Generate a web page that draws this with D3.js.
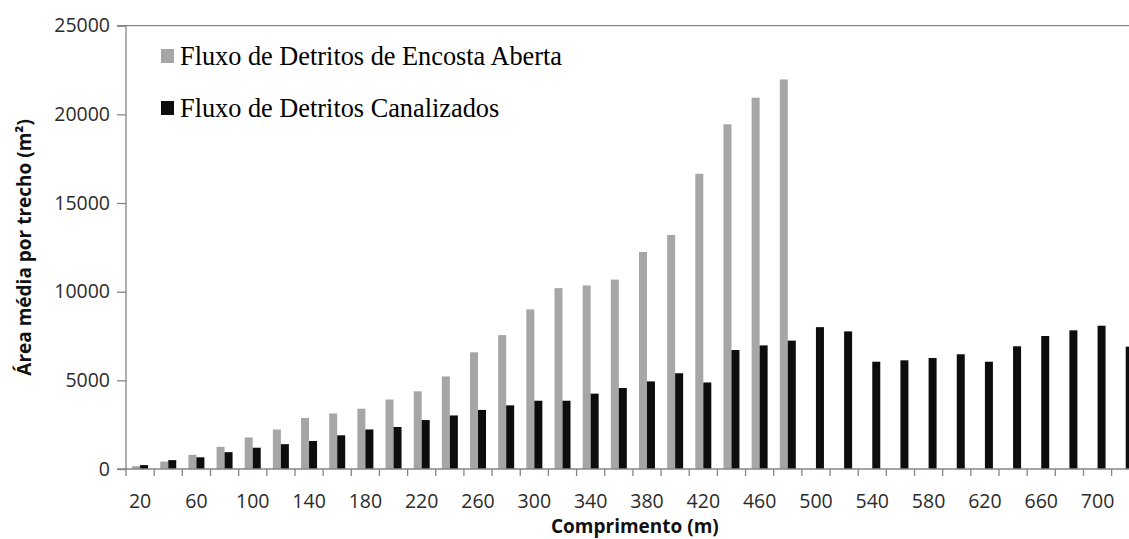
<!DOCTYPE html>
<html>
<head>
<meta charset="utf-8">
<script src="https://cdn.jsdelivr.net/npm/d3@7"></script>
<style>
  html, body { margin: 0; padding: 0; background: #fff; }
  svg { display: block; }
</style>
</head>
<body>
<svg id="chart" width="1129" height="539"></svg>
<script>
// ---- data ----
const categories = [20,40,60,80,100,120,140,160,180,200,220,240,260,280,300,320,340,360,380,400,420,440,460,480,500,520,540,560,580,600,620,640,660,680,700,720];
const encostaAberta = [160,420,800,1250,1780,2230,2880,3130,3400,3920,4380,5220,6580,7550,9000,10200,10350,10680,12240,13200,16650,19440,20940,21970,0,0,0,0,0,0,0,0,0,0,0,0];
const canalizados = [220,500,660,950,1200,1400,1580,1900,2230,2370,2760,3020,3330,3590,3850,3850,4250,4570,4940,5400,4880,6710,6970,7240,8000,7760,6050,6130,6260,6470,6050,6920,7500,7820,8080,6900];
const yTicks = [0,5000,10000,15000,20000,25000];
const seriesNames = ["Fluxo de Detritos de Encosta Aberta", "Fluxo de Detritos Canalizados"];
const seriesColors = ["#A6A6A6", "#0D0D0D"];
const xTitle = "Comprimento (m)";
const yTitle = "Área média por trecho (m²)";

(function () {
// ---- layout ----
const svg = d3.select("#chart");
const W = 1129;
const pL = 126, pR = 1139.8, pT = 25.7, pB = 469;
const axisColor = "#868686";

const x = d3.scaleBand().domain(categories).range([pL, pR]).paddingInner(0).paddingOuter(0);
const x1 = d3.scaleBand().domain([0,1]).range([0, x.bandwidth()]).paddingInner(0).paddingOuter(0.76);
const y = d3.scaleLinear().domain([0, 25000]).range([pB, pT]);

// top line at max
svg.append("line")
  .attr("x1", pL).attr("x2", W)
  .attr("y1", y(25000)).attr("y2", y(25000))
  .attr("stroke", axisColor).attr("stroke-width", 1.3);

// bars
const series = [encostaAberta, canalizados];
series.forEach((vals, si) => {
  svg.append("g").selectAll("rect")
    .data(categories.map((c, i) => ({c, v: vals[i]})).filter(d => d.v > 0))
    .join("rect")
    .attr("x", d => x(d.c) + x1(si))
    .attr("width", x1.bandwidth())
    .attr("y", d => y(d.v))
    .attr("height", d => y(0) - y(d.v))
    .attr("fill", seriesColors[si]);
});

// y axis
const yAxis = d3.axisLeft(y).tickValues(yTicks).tickSize(9).tickPadding(7).tickFormat(d3.format("d"));
const gy = svg.append("g").attr("transform", `translate(${pL},0)`).call(yAxis);
gy.select(".domain").attr("stroke", axisColor).attr("stroke-width", 1.3).attr("d", `M-9,${y(25000)}H0V${y(0)}`);
gy.selectAll(".tick line").attr("stroke", axisColor).attr("stroke-width", 1.3);
gy.selectAll(".tick text")
  .attr("font-family", "'Open Sans', sans-serif")
  .attr("font-size", 19.5).attr("fill", "#2b2b2b");

// x axis
svg.append("line")
  .attr("x1", pL - 9).attr("x2", W)
  .attr("y1", y(0)).attr("y2", y(0))
  .attr("stroke", axisColor).attr("stroke-width", 1.3);
const boundaries = categories.map(c => x(c)).concat([x(categories[categories.length-1]) + x.bandwidth()]);
svg.append("g").selectAll("line")
  .data(boundaries)
  .join("line")
  .attr("x1", d => d).attr("x2", d => d)
  .attr("y1", y(0)).attr("y2", y(0) + 7)
  .attr("stroke", axisColor).attr("stroke-width", 1.3);

const xAxis = d3.axisBottom(x)
  .tickValues(categories.filter((c, i) => i % 2 === 0))
  .tickSize(0).tickPadding(25);
const gx = svg.append("g").attr("transform", `translate(0,${y(0)})`).call(xAxis);
gx.select(".domain").remove();
gx.selectAll(".tick text")
  .attr("font-family", "'Open Sans', sans-serif")
  .attr("font-size", 19.5).attr("fill", "#2b2b2b");

// axis titles
svg.append("text")
  .attr("x", (pL + pR) / 2 + 2).attr("y", 533)
  .attr("text-anchor", "middle")
  .attr("font-family", "'Open Sans', sans-serif").attr("font-weight", "bold")
  .attr("font-size", 19).attr("fill", "#111")
  .text(xTitle);

svg.append("text")
  .attr("transform", `translate(31,${(pT + pB) / 2}) rotate(-90)`)
  .attr("text-anchor", "middle")
  .attr("font-family", "'Open Sans', sans-serif").attr("font-weight", "bold")
  .attr("font-size", 19).attr("fill", "#111")
  .text(yTitle);

// legend
const legend = svg.append("g");
seriesNames.forEach((name, i) => {
  const ly = 65 + i * 52;
  legend.append("rect")
    .attr("x", 161).attr("y", ly - 16).attr("width", 13).attr("height", 14)
    .attr("fill", seriesColors[i]);
  legend.append("text")
    .attr("x", 180).attr("y", ly)
    .attr("font-family", "'Liberation Serif', serif")
    .attr("font-size", 26.3).attr("fill", "#000")
    .text(name);
});
})();
</script>
</body>
</html>
